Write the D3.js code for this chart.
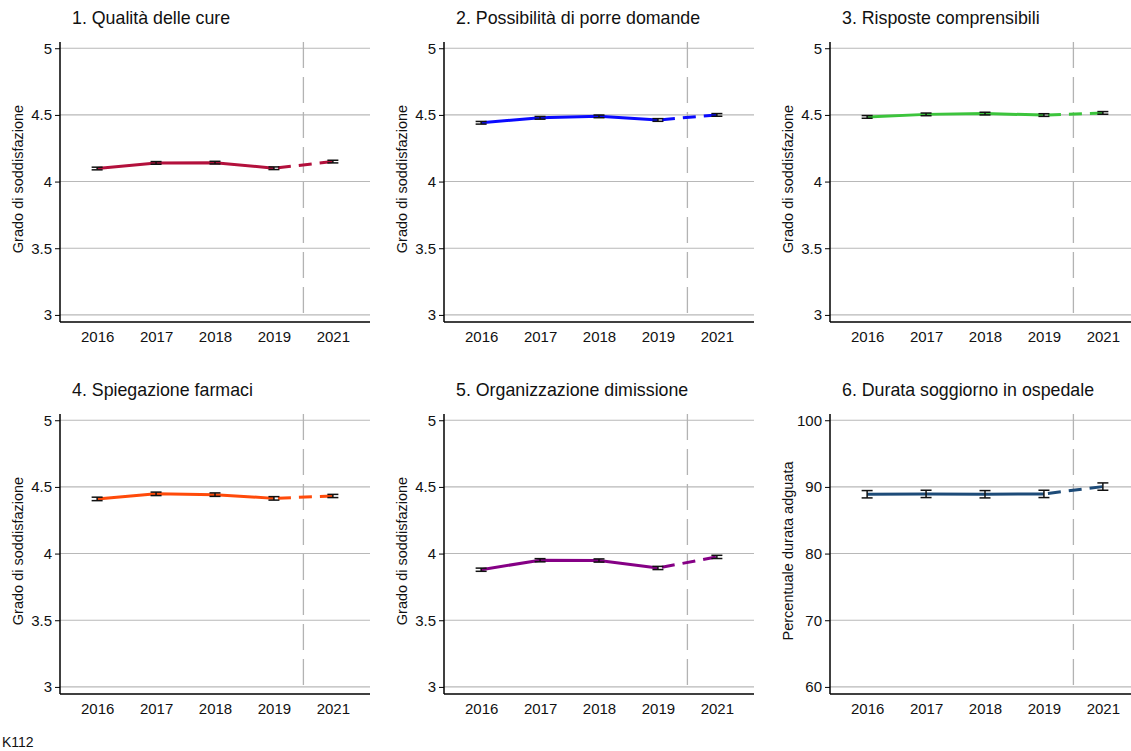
<!DOCTYPE html>
<html>
<head>
<meta charset="utf-8">
<script src="https://cdn.jsdelivr.net/npm/d3@7"></script>
<style>
  html, body { margin: 0; padding: 0; background: #fff; }
  svg { display: block; font-family: "Liberation Sans", Arial, sans-serif; }
</style>
</head>
<body>
<svg id="chart" width="1131" height="751"></svg>
<script>
// Survey years shown on every panel
const years = ["2016", "2017", "2018", "2019", "2021"];

// Panel titles, axis titles and line colours
const titles = [
  "1. Qualità delle cure",
  "2. Possibilità di porre domande",
  "3. Risposte comprensibili",
  "4. Spiegazione farmaci",
  "5. Organizzazione dimissione",
  "6. Durata soggiorno in ospedale"
];
const yTitles = [
  "Grado di soddisfazione", "Grado di soddisfazione", "Grado di soddisfazione",
  "Grado di soddisfazione", "Grado di soddisfazione", "Percentuale durata adguata"
];
const colors = ["#b3103c", "#0a0aff", "#3cc43c", "#ff4a0a", "#850085", "#1d4b78"];

// Mean values per panel (one per year)
const qualita      = [4.098, 4.140, 4.142, 4.100, 4.150];
const domande      = [4.441, 4.478, 4.489, 4.462, 4.500];
const risposte     = [4.485, 4.504, 4.510, 4.499, 4.515];
const farmaci      = [4.410, 4.448, 4.442, 4.414, 4.432];
const dimissione   = [3.879, 3.950, 3.948, 3.892, 3.975];
const durata       = [88.9, 88.95, 88.9, 88.95, 90.05];

// Half-widths of the confidence intervals
const errQualita    = [0.010, 0.010, 0.010, 0.010, 0.010];
const errDomande    = [0.010, 0.010, 0.010, 0.010, 0.010];
const errRisposte   = [0.010, 0.010, 0.010, 0.010, 0.010];
const errFarmaci    = [0.013, 0.013, 0.013, 0.013, 0.012];
const errDimissione = [0.012, 0.012, 0.012, 0.012, 0.012];
const errDurata     = [0.55, 0.55, 0.55, 0.55, 0.55];

// Y axis tick values
const scoreTicks = [3, 3.5, 4, 4.5, 5];
const scoreTickLabels = ["3", "3.5", "4", "4.5", "5"];
const pctTicks = [60, 70, 80, 90, 100];
const pctTickLabels = ["60", "70", "80", "90", "100"];

const series = [qualita, domande, risposte, farmaci, dimissione, durata];
const errors = [errQualita, errDomande, errRisposte, errFarmaci, errDimissione, errDurata];

const svg = d3.select("#chart");

const plotW = 310, plotH = 280;
const colX = [60, 444, 830];
const rowY = [42, 414];
const FONT = "Liberation Sans, Arial, sans-serif";

function drawPanel(i) {
  const col = i % 3, row = Math.floor(i / 3);
  const g = svg.append("g").attr("transform", `translate(${colX[col]},${rowY[row]})`);

  const isPct = i === 5;
  const ticks = isPct ? pctTicks : scoreTicks;
  const tickLabels = isPct ? pctTickLabels : scoreTickLabels;
  const lo = ticks[0], hi = ticks[ticks.length - 1];
  const pad = (hi - lo) * 0.0266;
  const y = d3.scaleLinear().domain([lo - pad, hi + pad * 0.88]).range([plotH, 0]);

  const x = d3.scalePoint().domain(years).range([0, plotW]).padding(0.63);

  // Horizontal gridlines
  g.append("g").selectAll("line").data(ticks).join("line")
    .attr("x1", 0).attr("x2", plotW)
    .attr("y1", d => y(d)).attr("y2", d => y(d))
    .attr("stroke", "#b8b8b8").attr("stroke-width", 1.1);

  // Break marker between 2019 and 2021
  const xBreak = (x("2019") + x("2021")) / 2;
  g.append("line")
    .attr("x1", xBreak).attr("x2", xBreak)
    .attr("y1", 0).attr("y2", plotH)
    .attr("stroke", "#b3b3b3").attr("stroke-width", 1.3)
    .attr("stroke-dasharray", "26,9");

  // Y axis
  const yAxis = d3.axisLeft(y).tickValues(ticks)
    .tickFormat((d, k) => tickLabels[k]).tickSize(5).tickPadding(3);
  const ya = g.append("g").call(yAxis);
  ya.select(".domain").attr("stroke", "#000").attr("stroke-width", 1.5)
    .attr("d", `M0,0V${plotH}`);
  ya.selectAll(".tick line").attr("stroke", "#000");
  ya.selectAll(".tick text").attr("font-size", 15).attr("fill", "#111")
    .attr("font-family", FONT);

  // X axis
  const xAxis = d3.axisBottom(x).tickSize(0).tickPadding(9);
  const xa = g.append("g").attr("transform", `translate(0,${plotH})`).call(xAxis);
  xa.select(".domain").attr("stroke", "#000").attr("stroke-width", 1.5)
    .attr("d", `M0,0H${plotW}`);
  xa.selectAll(".tick text").attr("font-size", 15).attr("fill", "#111")
    .attr("font-family", FONT);

  const vals = series[i];
  const errs = errors[i];
  const pts = years.map((yr, k) => ({ yr, v: vals[k], e: errs[k] }));

  const line = d3.line().x(d => x(d.yr)).y(d => y(d.v));

  // Solid trend through 2019, dashed continuation to 2021
  g.append("path").datum(pts.slice(0, 4))
    .attr("d", line).attr("fill", "none")
    .attr("stroke", colors[i]).attr("stroke-width", 3);
  g.append("path").datum(pts.slice(3))
    .attr("d", line).attr("fill", "none")
    .attr("stroke", colors[i]).attr("stroke-width", 3)
    .attr("stroke-dasharray", "13,8").attr("stroke-dashoffset", -4);

  // Error bars
  const cap = 5.5;
  const eb = g.append("g").selectAll("g").data(pts).join("g");
  eb.append("line")
    .attr("x1", d => x(d.yr)).attr("x2", d => x(d.yr))
    .attr("y1", d => y(d.v - d.e)).attr("y2", d => y(d.v + d.e))
    .attr("stroke", "#111").attr("stroke-width", 1.5);
  eb.append("line")
    .attr("x1", d => x(d.yr) - cap).attr("x2", d => x(d.yr) + cap)
    .attr("y1", d => y(d.v - d.e)).attr("y2", d => y(d.v - d.e))
    .attr("stroke", "#111").attr("stroke-width", 1.5);
  eb.append("line")
    .attr("x1", d => x(d.yr) - cap).attr("x2", d => x(d.yr) + cap)
    .attr("y1", d => y(d.v + d.e)).attr("y2", d => y(d.v + d.e))
    .attr("stroke", "#111").attr("stroke-width", 1.5);

  // Panel title
  g.append("text").attr("x", 12).attr("y", -18)
    .attr("font-size", 17.8).attr("fill", "#111").text(titles[i]);

  // Y axis title
  g.append("text")
    .attr("transform", `translate(-37,${plotH / 2 - 3}) rotate(-90)`)
    .attr("text-anchor", "middle").attr("font-size", 14.5).attr("fill", "#111")
    .text(yTitles[i]);
}

for (let i = 0; i < 6; i++) drawPanel(i);

// Figure code
svg.append("text").attr("x", 2).attr("y", 747)
  .attr("font-size", 14).attr("fill", "#111").text("K112");
</script>
</body>
</html>
